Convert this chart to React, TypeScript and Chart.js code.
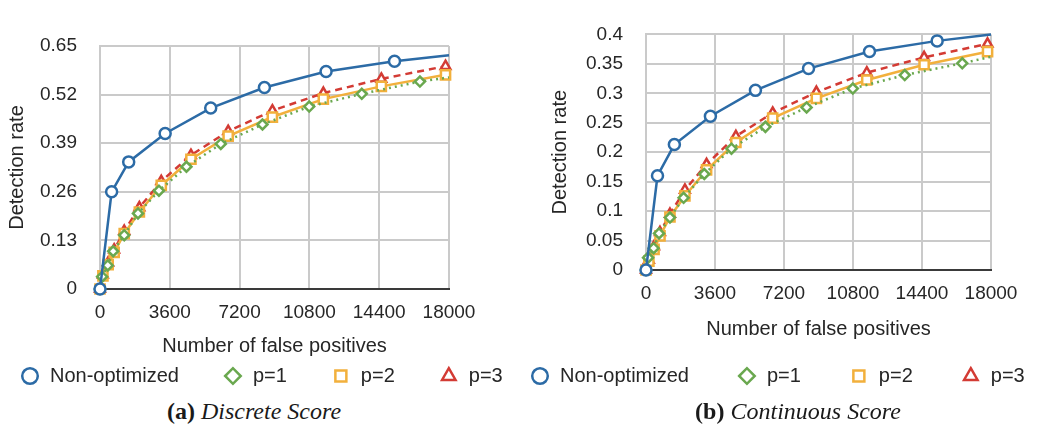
import React, { useEffect, useRef } from "react";
import { Chart, registerables } from "chart.js";

Chart.register(...registerables);

// ---------- data ----------
const seriesNames = ["Non-optimized", "p=1", "p=2", "p=3"];
const xTickStep = 3600;
const xMax = 18000;

const xNonOpt = [0, 600, 1480, 3360, 5710, 8480, 11660, 15190, 18000];
const xP1 = [0, 110, 400, 680, 1250, 1960, 3040, 4460, 6230, 8380, 10790, 13500, 16500, 18000];
const xP23 = [0, 150, 420, 730, 1250, 2030, 3160, 4690, 6610, 8890, 11520, 14510, 17820];

// (a) Discrete Score
const discreteNonOpt = [0, 0.26, 0.34, 0.416, 0.484, 0.539, 0.582, 0.609, 0.625];
const discreteP1 = [0, 0.033, 0.063, 0.101, 0.144, 0.202, 0.263, 0.327, 0.388, 0.44, 0.488, 0.522, 0.555, 0.566];
const discreteP2 = [0, 0.035, 0.065, 0.098, 0.148, 0.206, 0.277, 0.347, 0.409, 0.46, 0.508, 0.542, 0.573];
const discreteP3 = [0, 0.038, 0.07, 0.105, 0.155, 0.218, 0.288, 0.358, 0.422, 0.477, 0.524, 0.562, 0.596];

// (b) Continuous Score
const contNonOpt = [0, 0.16, 0.213, 0.261, 0.305, 0.342, 0.371, 0.389, 0.4];
const contP1 = [0, 0.021, 0.037, 0.062, 0.089, 0.1225, 0.163, 0.206, 0.243, 0.276, 0.308, 0.331, 0.351, 0.362];
const contP2 = [0, 0.015, 0.035, 0.058, 0.09, 0.1257, 0.17, 0.2165, 0.2577, 0.2915, 0.3226, 0.3485, 0.3707];
const contP3 = [0, 0.017, 0.04, 0.064, 0.095, 0.136, 0.1795, 0.227, 0.2667, 0.302, 0.335, 0.361, 0.384];

const xTitle = "Number of false positives";
const yTitle = "Detection rate";

// ---------- styles ----------
const FONT = "'Liberation Sans', Arial, Helvetica, sans-serif";
const TEXT = "#262626";
const GRID = "#cacaca";
const BLUE = "#2c6ba6";
const GREEN = "#6aa84f";
const ORANGE = "#f2b03c";
const RED = "#d33b34";

function pts(xs: number[], ys: number[]) {
  return xs.map((x, i) => ({ x, y: ys[i] }));
}
function radii(n: number, r: number, hideLast: boolean) {
  const arr: number[] = [];
  for (let i = 0; i < n; i++) arr.push(hideLast && i === n - 1 ? 0 : r);
  return arr;
}

type Layout = {
  yMax: number;
  yStep: number;
  padLeft: number;
  yAxisWidth: number;
  yTitlePad: number;
  xAxisHeight: number;
  xTitlePadBottom: number;
  padRight: number;
  padTop: number;
  legendPad: number;
};

function makeConfig(nonOpt: number[], p1: number[], p2: number[], p3: number[], L: Layout): any {
  return {
    type: "line",
    data: {
      datasets: [
        {
          label: seriesNames[0],
          data: pts(xNonOpt, nonOpt),
          borderColor: BLUE,
          borderWidth: 2.5,
          pointStyle: "circle",
          pointRadius: radii(xNonOpt.length, 5.5, true),
          pointBorderWidth: 2.5,
          pointBorderColor: BLUE,
          pointBackgroundColor: "#ffffff",
          tension: 0,
          clip: false,
        },
        {
          label: seriesNames[1],
          data: pts(xP1, p1),
          borderColor: GREEN,
          borderWidth: 2.5,
          borderDash: [2, 4],
          pointStyle: "rectRot",
          pointRadius: radii(xP1.length, 5, true),
          pointBorderWidth: 2.5,
          pointBorderColor: GREEN,
          pointBackgroundColor: "#ffffff",
          tension: 0,
          clip: false,
        },
        {
          label: seriesNames[2],
          data: pts(xP23, p2),
          borderColor: ORANGE,
          borderWidth: 2.5,
          pointStyle: "rect",
          pointRadius: radii(xP23.length, 6.5, false),
          pointBorderWidth: 2.5,
          pointBorderColor: ORANGE,
          pointBackgroundColor: "#ffffff",
          tension: 0,
          clip: false,
        },
        {
          label: seriesNames[3],
          data: pts(xP23, p3),
          borderColor: RED,
          borderWidth: 2.5,
          borderDash: [7, 5],
          pointStyle: "triangle",
          pointRadius: radii(xP23.length, 5.5, false),
          pointBorderWidth: 2.5,
          pointBorderColor: RED,
          pointBackgroundColor: "#ffffff",
          tension: 0,
          clip: false,
        },
      ],
    },
    options: {
      responsive: false,
      animation: false,
      layout: { padding: { top: L.padTop, left: L.padLeft, right: 0, bottom: 0 } },
      plugins: {
        tooltip: { enabled: false },
        legend: {
          position: "bottom",
          align: "start",
          labels: {
            usePointStyle: true,
            boxHeight: 11,
            padding: L.legendPad,
            color: TEXT,
            font: { family: FONT, size: 20 },
          },
        },
      },
      scales: {
        x: {
          type: "linear",
          min: 0,
          max: xMax,
          ticks: {
            stepSize: xTickStep,
            color: TEXT,
            font: { family: FONT, size: 19 },
            padding: 12,
            maxRotation: 0,
            autoSkip: false,
            callback: (v: number) => String(v),
          },
          grid: { color: GRID, lineWidth: 2, drawTicks: false },
          border: { color: "#3a3a3a", width: 2 },
          title: {
            display: true,
            text: xTitle,
            color: TEXT,
            font: { family: FONT, size: 20 },
            padding: { top: 0, bottom: L.xTitlePadBottom },
          },
          afterFit: (s: any) => {
            s.height = L.xAxisHeight;
            s.paddingRight = L.padRight;
          },
        },
        y: {
          type: "linear",
          min: 0,
          max: L.yMax,
          ticks: {
            stepSize: L.yStep,
            color: TEXT,
            font: { family: FONT, size: 19 },
            padding: 23,
            callback: (v: number) => String(Number(Number(v).toFixed(2))),
          },
          grid: { color: GRID, lineWidth: 2, drawTicks: false },
          border: { color: GRID, width: 2 },
          title: {
            display: true,
            text: yTitle,
            color: TEXT,
            font: { family: FONT, size: 20 },
            padding: { top: L.yTitlePad, bottom: 0 },
          },
          afterFit: (s: any) => {
            s.width = L.yAxisWidth;
          },
        },
      },
    },
  };
}

function ChartCanvas(props: { config: any; left: number; width: number; height: number }) {
  const ref = useRef<HTMLCanvasElement | null>(null);
  useEffect(() => {
    if (!ref.current) return;
    const chart = new Chart(ref.current, props.config);
    return () => chart.destroy();
  }, []);
  return (
    <canvas
      ref={ref}
      width={props.width}
      height={props.height}
      style={{ position: "absolute", left: props.left, top: 0, width: props.width, height: props.height, display: "block" }}
    />
  );
}

function Caption(props: { label: string; text: string; center: number }) {
  return (
    <div
      style={{
        position: "absolute",
        left: props.center - 200,
        width: 400,
        top: 397,
        textAlign: "center",
        fontFamily: "'Liberation Serif', 'Times New Roman', serif",
        fontSize: 24,
        lineHeight: "28px",
        color: "#1a1a1a",
        whiteSpace: "nowrap",
      }}
    >
      <b style={{ fontStyle: "normal" }}>{props.label}</b> <i>{props.text}</i>
    </div>
  );
}

export default function App() {
  // left canvas: x 0..600, chart area x 100..449, y 46..289
  const leftCfg = makeConfig(discreteNonOpt, discreteP1, discreteP2, discreteP3, {
    yMax: 0.65,
    yStep: 0.13,
    padLeft: -24,
    yAxisWidth: 124,
    yTitlePad: 29,
    xAxisHeight: 33,
    xTitlePadBottom: -36,
    padRight: 151,
    padTop: 46,
    legendPad: 44,
  });
  // right canvas: x 482..1102, chart area x 646..991, y 18..270
  const rightCfg = makeConfig(contNonOpt, contP1, contP2, contP3, {
    yMax: 0.4,
    yStep: 0.05,
    padLeft: 0,
    yAxisWidth: 164,
    yTitlePad: 66,
    xAxisHeight: 48,
    xTitlePadBottom: -23,
    padRight: 111,
    padTop: 18,
    legendPad: 48,
  });
  return (
    <div style={{ position: "absolute", left: 0, top: 0, width: 1043, height: 428, background: "#ffffff", overflow: "hidden" }}>
      <ChartCanvas config={leftCfg} left={0} width={600} height={396} />
      <ChartCanvas config={rightCfg} left={482} width={620} height={396} />
      <Caption label="(a)" text="Discrete Score" center={254} />
      <Caption label="(b)" text="Continuous Score" center={798} />
    </div>
  );
}
